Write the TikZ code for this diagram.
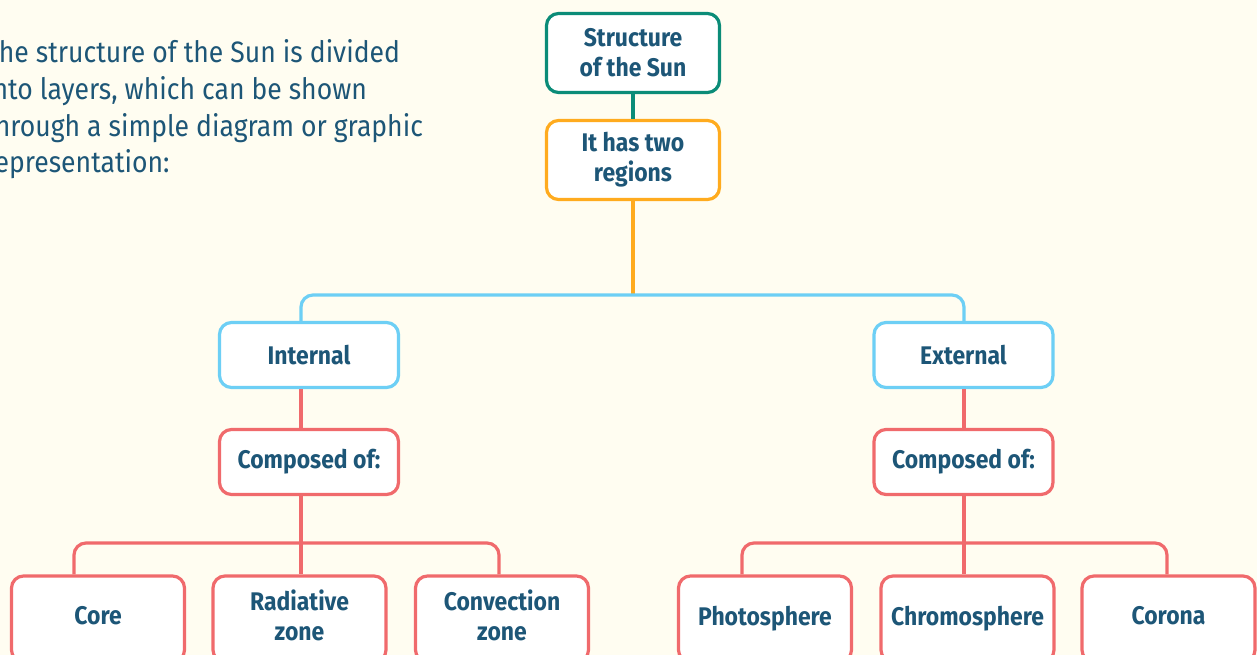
\documentclass[tikz,border=0pt]{standalone}
\usepackage{fontspec}
\setmainfont{Fira Sans}[FakeStretch=0.9]
\definecolor{bgc}{HTML}{FFFDF1}
\definecolor{txt}{HTML}{1D5677}
\definecolor{tealc}{HTML}{0B8C78}
\definecolor{orangec}{HTML}{FFAB1E}
\definecolor{bluec}{HTML}{6DCFF5}
\definecolor{redc}{HTML}{F06A6C}
\newcommand{\uptext}[2][5pt]{\raisebox{#1}{\begin{tabular}{@{}c@{}}#2\end{tabular}}}
\begin{document}
\begin{tikzpicture}[x=1pt,y=-1pt,
  box/.style={draw,fill=white,line width=3.2pt,rounded corners=12pt,align=center,
    text=txt,font=\bfseries\fontsize{25.5}{30}\selectfont,inner sep=0pt},
  big/.style={box,minimum width=173pt,minimum height=79pt},
  mid/.style={box,minimum width=179pt,minimum height=65pt},
  low/.style={box,minimum width=173pt,minimum height=86pt},
  conn/.style={line width=3.2pt,rounded corners=12pt},
  para/.style={anchor=base west,inner sep=0pt,text=txt,font=\fontsize{29.5}{36}\selectfont}]
\useasboundingbox (0,0) rectangle (1257,655);
\clip (0,0) rectangle (1257,655);
\fill[bgc] (0,0) rectangle (1257,655);

\node[para] (p1) at (-15,63) {The structure of the Sun is divided};
\node[para] (p2) at (-15,100) {into layers, which can be shown};
\node[para] (p3) at (-15,137) {through a simple diagram or graphic};
\node[para] (p4) at (-15,172) {representation:};

\coordinate (xl) at (301,0);
\coordinate (xr) at (964,0);
\coordinate (hb) at (633,295);
\coordinate (hl) at (301,543);
\coordinate (hr) at (964,543);
\coordinate (xa) at (74,0);
\coordinate (xb) at (499,0);
\coordinate (xc) at (742,0);
\coordinate (xd) at (1167,0);

\node[big,draw=tealc] (sun) at (633,53) {Structure\\of the Sun};
\node[big,draw=orangec] (two) at (633,160) {It has two\\regions};
\node[mid,draw=bluec] (int) at (309,355) {Internal};
\node[mid,draw=bluec] (ext) at (963.5,355) {External};
\node[mid,draw=redc] (cl) at (309,462) {Composed of:};
\node[mid,draw=redc] (cr) at (963.5,462) {Composed of:};
\node[low,draw=redc] (core) at (98,619) {\uptext[9pt]{Core}};
\node[low,draw=redc] (rad) at (299.5,619) {\uptext{Radiative\\zone}};
\node[low,draw=redc] (conv) at (502,619) {\uptext{Convection\\zone}};
\node[low,draw=redc] (pho) at (765,619) {\uptext[7pt]{Photosphere}};
\node[low,draw=redc] (chr) at (967.5,619) {\uptext[8pt]{Chromosphere}};
\node[low,draw=redc] (cor) at (1168.5,619) {\uptext[9pt]{Corona}};

\draw[conn,tealc] (sun.south) -- (two.north);
\draw[conn,orangec] (two.south) -- (hb);
\draw[conn,bluec] (int.north -| xl) |- (hb) -| (ext.north -| xr);
\draw[conn,redc] (int.south -| xl) -- (cl.north -| xl);
\draw[conn,redc] (ext.south -| xr) -- (cr.north -| xr);
\draw[conn,redc] (cl.south -| xl) -- (rad.north -| xl);
\draw[conn,redc] (core.north -| xa) |- (hl) -| (conv.north -| xb);
\draw[conn,redc] (cr.south -| xr) -- (chr.north -| xr);
\draw[conn,redc] (pho.north -| xc) |- (hr) -| (cor.north -| xd);
\end{tikzpicture}
\end{document}
